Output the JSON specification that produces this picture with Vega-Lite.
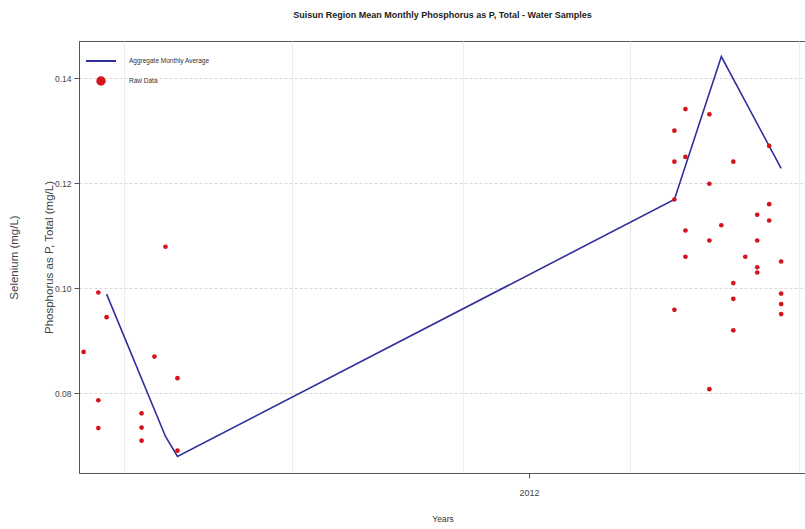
{
  "$schema": "https://vega.github.io/schema/vega-lite/v6.json",
  "width": 727,
  "height": 432,
  "autosize": {"type": "none"},
  "padding": {"left": 79, "top": 41, "right": 0, "bottom": 56},
  "background": "white",
  "title": {
    "text": "Suisun Region Mean Monthly Phosphorus as P, Total - Water Samples",
    "font": "Liberation Sans",
    "fontSize": 9,
    "fontWeight": "bold",
    "color": "#222222",
    "anchor": "middle",
    "offset": 21
  },
  "config": {
    "view": {"stroke": "#555555", "strokeWidth": 1},
    "axis": {
      "labelFont": "Liberation Sans",
      "titleFont": "Liberation Sans",
      "labelColor": "#444444",
      "titleColor": "#333333",
      "domainColor": "#555555",
      "tickColor": "#555555",
      "gridColor": "#dddddd"
    }
  },
  "datasets": {
    "raw": [
      {"date": "2010-09-04", "value": 0.0879},
      {"date": "2010-09-20", "value": 0.0992},
      {"date": "2010-09-20", "value": 0.0787},
      {"date": "2010-09-20", "value": 0.0734},
      {"date": "2010-09-29", "value": 0.0945},
      {"date": "2010-11-06", "value": 0.0762},
      {"date": "2010-11-06", "value": 0.0735},
      {"date": "2010-11-06", "value": 0.0710},
      {"date": "2010-11-20", "value": 0.0870},
      {"date": "2010-12-02", "value": 0.1079},
      {"date": "2010-12-15", "value": 0.0829},
      {"date": "2010-12-15", "value": 0.0691},
      {"date": "2012-06-07", "value": 0.1300},
      {"date": "2012-06-07", "value": 0.1241},
      {"date": "2012-06-07", "value": 0.1169},
      {"date": "2012-06-07", "value": 0.0959},
      {"date": "2012-06-19", "value": 0.1341},
      {"date": "2012-06-19", "value": 0.1250},
      {"date": "2012-06-19", "value": 0.1110},
      {"date": "2012-06-19", "value": 0.1060},
      {"date": "2012-07-15", "value": 0.1331},
      {"date": "2012-07-15", "value": 0.1199},
      {"date": "2012-07-15", "value": 0.1091},
      {"date": "2012-07-15", "value": 0.0808},
      {"date": "2012-07-28", "value": 0.1120},
      {"date": "2012-08-10", "value": 0.1241},
      {"date": "2012-08-10", "value": 0.1010},
      {"date": "2012-08-10", "value": 0.0980},
      {"date": "2012-08-10", "value": 0.0920},
      {"date": "2012-08-23", "value": 0.1060},
      {"date": "2012-09-05", "value": 0.1140},
      {"date": "2012-09-05", "value": 0.1091},
      {"date": "2012-09-05", "value": 0.1040},
      {"date": "2012-09-05", "value": 0.1030},
      {"date": "2012-09-18", "value": 0.1271},
      {"date": "2012-09-18", "value": 0.1160},
      {"date": "2012-09-18", "value": 0.1129},
      {"date": "2012-10-01", "value": 0.1051},
      {"date": "2012-10-01", "value": 0.0990},
      {"date": "2012-10-01", "value": 0.0970},
      {"date": "2012-10-01", "value": 0.0951}
    ],
    "avg": [
      {"date": "2010-09-29", "value": 0.0989},
      {"date": "2010-12-02", "value": 0.0718},
      {"date": "2010-12-15", "value": 0.0680},
      {"date": "2012-06-07", "value": 0.1169},
      {"date": "2012-07-28", "value": 0.1441},
      {"date": "2012-10-01", "value": 0.1228}
    ]
  },
  "encoding": {
    "x": {
      "field": "date",
      "type": "temporal",
      "scale": {
        "type": "utc",
        "domain": [
          {"year": 2010, "month": 8, "date": 30, "utc": true},
          {"year": 2012, "month": 10, "date": 28, "utc": true}
        ]
      },
      "axis": {
        "title": "Years",
        "titleFontSize": 8.5,
        "titleFontWeight": "normal",
        "titlePadding": 17,
        "labelFontSize": 9,
        "labelPadding": 10,
        "tickSize": 5,
        "values": [
          {"year": 2010, "month": 10, "date": 18, "utc": true},
          {"year": 2011, "month": 4, "date": 19, "utc": true},
          {"year": 2011, "month": 10, "date": 21, "utc": true},
          {"year": 2012, "month": 1, "date": 1, "utc": true},
          {"year": 2012, "month": 4, "date": 20, "utc": true},
          {"year": 2012, "month": 10, "date": 20, "utc": true}
        ],
        "labelExpr": "time(datum.value) === 1325376000000 ? '2012' : ''",
        "gridOpacity": {"condition": {"test": "time(datum.value) === 1325376000000", "value": 0}, "value": 1},
        "tickOpacity": {"condition": {"test": "time(datum.value) === 1325376000000", "value": 1}, "value": 0},
        "gridColor": "#ececec"
      }
    },
    "y": {
      "field": "value",
      "type": "quantitative",
      "scale": {"domain": [0.06485, 0.14706], "nice": false, "zero": false},
      "axis": {
        "title": ["Selenium (mg/L)", "Phosphorus as P, Total (mg/L)"],
        "titleFontSize": 11.5,
        "titleFontWeight": "normal",
        "titleLineHeight": 35,
        "titleColor": "#444444",
        "titlePadding": 0,
        "values": [0.08, 0.10, 0.12, 0.14],
        "format": ".2f",
        "labelFontSize": 8.5,
        "labelPadding": 3,
        "tickSize": 5,
        "gridDash": [3, 2],
        "gridColor": "#d8d8d8"
      }
    }
  },
  "layer": [
    {
      "data": {"name": "avg"},
      "mark": {"type": "line", "strokeWidth": 1.6, "clip": true},
      "encoding": {
        "color": {
          "datum": "Aggregate Monthly Average",
          "type": "nominal",
          "scale": {
            "domain": ["Aggregate Monthly Average", "Raw Data"],
            "range": ["#2f2f9c", "#d4141c"]
          },
          "legend": {
            "title": null,
            "orient": "none",
            "legendX": 6,
            "legendY": 4,
            "padding": 0,
            "symbolType": "stroke",
            "symbolSize": 900,
            "symbolStrokeWidth": 2,
            "rowPadding": -14,
            "labelFont": "Liberation Sans",
            "labelFontSize": 6.5,
            "labelColor": "#333333",
            "labelOffset": 12,
            "encode": {
              "symbols": {
                "update": {
                  "shape": {"signal": "datum.value === 'Raw Data' ? 'circle' : 'stroke'"},
                  "size": {"signal": "datum.value === 'Raw Data' ? 55 : 900"},
                  "fill": {"signal": "datum.value === 'Raw Data' ? '#e0101a' : 'transparent'"},
                  "stroke": {"signal": "datum.value === 'Raw Data' ? 'transparent' : '#4040b0'"},
                  "strokeWidth": {"value": 2},
                  "opacity": {"value": 1}
                }
              }
            }
          }
        }
      }
    },
    {
      "data": {"name": "raw"},
      "mark": {"type": "point", "filled": true, "size": 22, "opacity": 1},
      "encoding": {
        "color": {"datum": "Raw Data", "type": "nominal"}
      }
    }
  ]
}
